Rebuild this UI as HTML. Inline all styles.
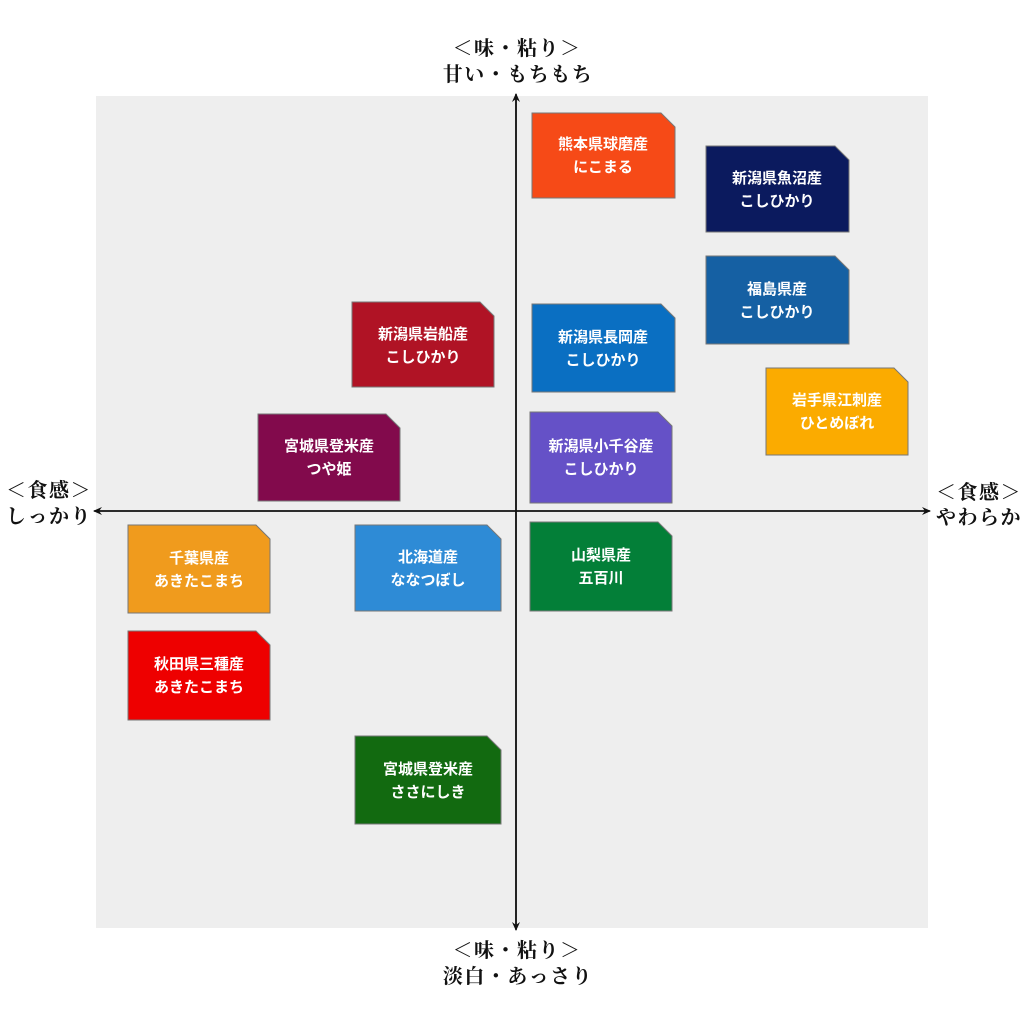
<!DOCTYPE html>
<html><head><meta charset="utf-8"><style>
html,body{margin:0;padding:0;background:#fff}
svg{display:block}
.lab{font-family:"Liberation Serif","Noto Serif CJK SC",serif;font-weight:bold;font-size:20px;letter-spacing:1.5px;fill:#111;text-anchor:middle}
.bt{font-family:"Liberation Sans","Noto Sans CJK JP",sans-serif;font-weight:bold;font-size:15px;fill:#fff;text-anchor:middle}
</style></head><body>
<svg width="1024" height="1024" viewBox="0 0 1024 1024" xmlns="http://www.w3.org/2000/svg">
<rect x="96" y="96" width="832" height="832" fill="#eeeeee"/>
<defs><marker id="a" markerWidth="10" markerHeight="10" refX="8" refY="5" orient="auto" markerUnits="userSpaceOnUse"><path d="M0,1 L9,5 L0,9 L3,5 Z" fill="#111"/></marker></defs>
<line x1="516" y1="928" x2="516" y2="94" stroke="#111" stroke-width="1.6" marker-end="url(#a)"/>
<line x1="516" y1="96" x2="516" y2="930" stroke="#111" stroke-width="1.6" marker-end="url(#a)"/>
<line x1="928" y1="511" x2="94" y2="511" stroke="#111" stroke-width="1.6" marker-end="url(#a)"/>
<line x1="96" y1="511" x2="930" y2="511" stroke="#111" stroke-width="1.6" marker-end="url(#a)"/>
<text class="lab" x="517" y="55">＜味・粘り＞</text>
<text class="lab" x="518" y="81">甘い・もちもち</text>
<text class="lab" x="517" y="957">＜味・粘り＞</text>
<text class="lab" x="518" y="983">淡白・あっさり</text>
<text class="lab" x="49" y="497">＜食感＞</text>
<text class="lab" x="49" y="523">しっかり</text>
<text class="lab" x="979" y="499">＜食感＞</text>
<text class="lab" x="979" y="524">やわらか</text>
<g stroke="#777" stroke-width="1">
<path d="M532,113H661L675,127V198H532Z" fill="#f64a17"/>
<path d="M706,146H835L849,160V232H706Z" fill="#0b1a5e"/>
<path d="M706,256H835L849,270V344H706Z" fill="#1560a3"/>
<path d="M352,302H480L494,316V387H352Z" fill="#b01325"/>
<path d="M532,304H661L675,318V392H532Z" fill="#0a6fc2"/>
<path d="M766,368H894L908,382V455H766Z" fill="#fbab00"/>
<path d="M258,414H386L400,428V501H258Z" fill="#820a4c"/>
<path d="M530,412H658L672,426V503H530Z" fill="#6551c7"/>
<path d="M128,525H256L270,539V613H128Z" fill="#f09b1d"/>
<path d="M355,525H487L501,539V611H355Z" fill="#2e8bd6"/>
<path d="M530,522H658L672,536V611H530Z" fill="#037f38"/>
<path d="M128,631H256L270,645V720H128Z" fill="#ee0000"/>
<path d="M355,736H487L501,750V824H355Z" fill="#126a10"/>
</g>
<g class="bt">
<text class="bt" x="603" y="149">熊本県球磨産</text><text class="bt" x="603" y="172">にこまる</text>
<text class="bt" x="777" y="183">新潟県魚沼産</text><text class="bt" x="777" y="206">こしひかり</text>
<text class="bt" x="777" y="294">福島県産</text><text class="bt" x="777" y="317">こしひかり</text>
<text class="bt" x="423" y="339">新潟県岩船産</text><text class="bt" x="423" y="362">こしひかり</text>
<text class="bt" x="603" y="342">新潟県長岡産</text><text class="bt" x="603" y="365">こしひかり</text>
<text class="bt" x="837" y="405">岩手県江刺産</text><text class="bt" x="837" y="428">ひとめぼれ</text>
<text class="bt" x="329" y="451">宮城県登米産</text><text class="bt" x="329" y="474">つや姫</text>
<text class="bt" x="601" y="451">新潟県小千谷産</text><text class="bt" x="601" y="474">こしひかり</text>
<text class="bt" x="199" y="563">千葉県産</text><text class="bt" x="199" y="586">あきたこまち</text>
<text class="bt" x="428" y="562">北海道産</text><text class="bt" x="428" y="585">ななつぼし</text>
<text class="bt" x="601" y="560">山梨県産</text><text class="bt" x="601" y="583">五百川</text>
<text class="bt" x="199" y="669">秋田県三種産</text><text class="bt" x="199" y="692">あきたこまち</text>
<text class="bt" x="428" y="774">宮城県登米産</text><text class="bt" x="428" y="797">ささにしき</text>
</g>
</svg>
</body></html>
